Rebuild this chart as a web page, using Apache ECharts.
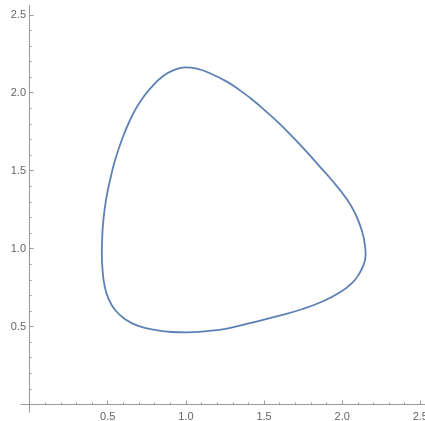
<!DOCTYPE html>
<html style="height: 100%">
<head>
    <meta charset="utf-8">
</head>
<body style="height: 100%; margin: 0">
<div id="container" style="width: 425px; height: 421px"></div>
<script type="text/javascript" src="https://cdn.jsdelivr.net/npm/echarts@6/dist/echarts.min.js"></script>
<script type="text/javascript">
    // closed orbit, points (x, y), going round once
    var orbitX = [0.464, 0.472, 0.489, 0.515, 0.547, 0.590, 0.643, 0.707, 0.782, 0.853, 0.925, 0.995,
        1.070, 1.155, 1.262, 1.336, 1.422, 1.507, 1.592, 1.678, 1.763, 1.848, 1.933, 2.029, 2.083,
        2.125, 2.146, 2.150, 2.140, 2.110, 2.061, 1.976, 1.870, 1.742, 1.592, 1.422, 1.270, 1.134,
        1.006, 0.910, 0.803, 0.696, 0.611, 0.547, 0.504, 0.479, 0.466, 0.462, 0.464];
    var orbitY = [1.055, 1.183, 1.312, 1.440, 1.568, 1.697, 1.825, 1.942, 2.038, 2.105, 2.146, 2.163,
        2.154, 2.124, 2.071, 2.022, 1.958, 1.885, 1.808, 1.722, 1.632, 1.536, 1.440, 1.318, 1.226,
        1.119, 1.020, 0.960, 0.905, 0.840, 0.777, 0.713, 0.659, 0.611, 0.568, 0.525, 0.489, 0.471,
        0.463, 0.465, 0.478, 0.504, 0.547, 0.606, 0.681, 0.766, 0.874, 0.959, 1.055];

    var majorTicks = [0.5, 1.0, 1.5, 2.0, 2.5];
    var minorTicks = [0.1, 0.2, 0.3, 0.4, 0.6, 0.7, 0.8, 0.9, 1.1, 1.2, 1.3, 1.4,
        1.6, 1.7, 1.8, 1.9, 2.1, 2.2, 2.3, 2.4];

    var points = orbitX.map(function (x, i) { return [x, orbitY[i]]; });

    var axisColor = '#999999';
    var labelStyle = { color: '#666666', fontSize: 11, fontFamily: 'Liberation Sans' };

    var dom = document.getElementById("container");
    var myChart = echarts.init(dom);

    var option = {
        animation: false,
        grid: { left: 21, right: 0, top: 5.4, bottom: 8.7, containLabel: false, outerBoundsMode: 'none' },
        xAxis: [{
            type: 'value', min: -0.055, max: 2.53,
            splitLine: { show: false },
            axisLine: { onZero: true, lineStyle: { color: axisColor, width: 1 } },
            axisTick: { inside: true, length: 4, customValues: majorTicks, lineStyle: { color: axisColor } },
            axisLabel: Object.assign({ customValues: majorTicks, margin: -1, hideOverlap: false,
                formatter: function (v) { return v.toFixed(1); } }, labelStyle)
        }, {
            type: 'value', min: -0.055, max: 2.53, position: 'top',
            splitLine: { show: false },
            axisLine: { show: false, onZero: true, onZeroAxisIndex: 0 },
            axisTick: { show: true, length: 2, customValues: minorTicks, lineStyle: { color: axisColor } },
            axisLabel: { show: false }
        }],
        yAxis: [{
            type: 'value', min: -0.05, max: 2.56,
            splitLine: { show: false },
            axisLine: { onZero: true, lineStyle: { color: axisColor, width: 1 } },
            axisTick: { inside: true, length: 4, customValues: majorTicks, lineStyle: { color: axisColor } },
            axisLabel: Object.assign({ customValues: majorTicks, margin: -5,
                formatter: function (v) { return v.toFixed(1); } }, labelStyle)
        }, {
            type: 'value', min: -0.05, max: 2.56, position: 'right',
            splitLine: { show: false },
            axisLine: { show: false, onZero: true, onZeroAxisIndex: 0 },
            axisTick: { show: true, length: 2, customValues: minorTicks, lineStyle: { color: axisColor } },
            axisLabel: { show: false }
        }],
        series: [{
            type: 'line',
            xAxisIndex: 0,
            yAxisIndex: 0,
            data: points,
            smooth: 0.5,
            showSymbol: false,
            lineStyle: { color: '#5e81b5', width: 1.8 }
        }]
    };

    myChart.setOption(option);
</script>
</body>
</html>
